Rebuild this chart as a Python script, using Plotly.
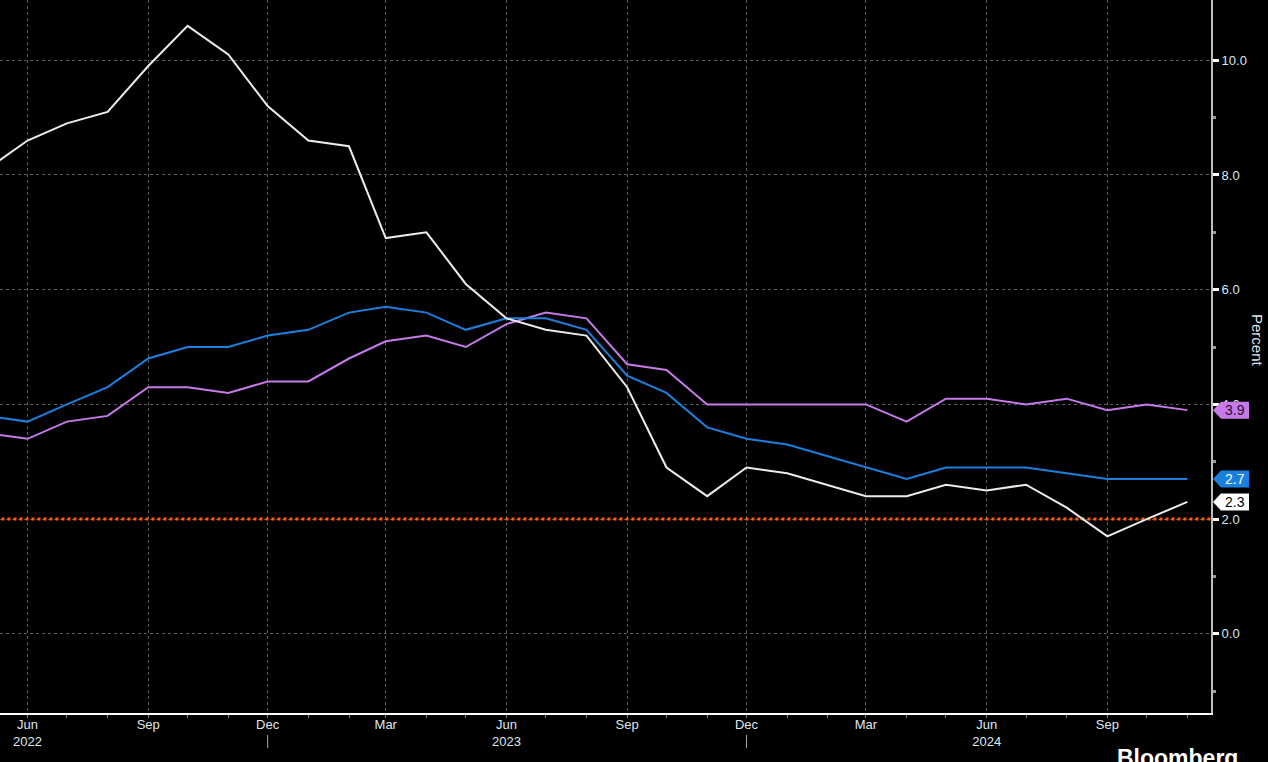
import plotly.graph_objects as go
import pandas as pd

months = pd.date_range("2022-05-01", "2024-11-01", freq="MS")

headline = [8.1, 8.6, 8.9, 9.1, 9.9, 10.6, 10.1, 9.2, 8.6, 8.5, 6.9, 7.0, 6.1, 5.5, 5.3, 5.2,
            4.3, 2.9, 2.4, 2.9, 2.8, 2.6, 2.4, 2.4, 2.6, 2.5, 2.6, 2.2, 1.7, 2.0, 2.3]
core = [3.8, 3.7, 4.0, 4.3, 4.8, 5.0, 5.0, 5.2, 5.3, 5.6, 5.7, 5.6, 5.3, 5.5, 5.5, 5.3,
        4.5, 4.2, 3.6, 3.4, 3.3, 3.1, 2.9, 2.7, 2.9, 2.9, 2.9, 2.8, 2.7, 2.7, 2.7]
services = [3.5, 3.4, 3.7, 3.8, 4.3, 4.3, 4.2, 4.4, 4.4, 4.8, 5.1, 5.2, 5.0, 5.4, 5.6, 5.5,
            4.7, 4.6, 4.0, 4.0, 4.0, 4.0, 4.0, 3.7, 4.1, 4.1, 4.0, 4.1, 3.9, 4.0, 3.9]
target = 2.0

x_tick_vals = ["2022-06-01", "2022-09-01", "2022-12-01", "2023-03-01", "2023-06-01",
               "2023-09-01", "2023-12-01", "2024-03-01", "2024-06-01", "2024-09-01"]
x_tick_text = ["Jun<br>2022", "Sep", "Dec", "Mar", "Jun<br>2023", "Sep", "Dec", "Mar",
               "Jun<br>2024", "Sep"]
year_breaks = ["2022-12-01", "2023-12-01"]
y_tick_vals = [0, 2, 4, 6, 8, 10]
y_tick_text = ["0.0", "2.0", "4.0", "6.0", "8.0", "10.0"]

WHITE = "#ececec"
BLUE = "#1a80e0"
PURPLE = "#c67ae8"
ORANGE = "#ff5a00"
FONT = "Liberation Sans"
LABEL = "#dfe6ef"

fig = go.Figure()
fig.add_trace(go.Scatter(x=["2022-04-01", "2024-12-31"], y=[target, target], mode="lines",
                         line=dict(color=ORANGE, width=3, dash="dot"), hoverinfo="skip"))
fig.add_trace(go.Scatter(x=months, y=services, mode="lines", line=dict(color=PURPLE, width=2)))
fig.add_trace(go.Scatter(x=months, y=core, mode="lines", line=dict(color=BLUE, width=2)))
fig.add_trace(go.Scatter(x=months, y=headline, mode="lines", line=dict(color=WHITE, width=2)))

YMIN, YMAX = -1.38, 11.05
PLOT_H = 713
PLOT_W = 1211
units_per_px = (YMAX - YMIN) / PLOT_H

def px(xp):
    return 1 + xp / PLOT_W

# value flags on the right axis
flags = [(services[-1], PURPLE, "#2a0a3a"), (core[-1], BLUE, "#ffffff"), (headline[-1], "#ffffff", "#000000")]
for val, fill, txt in flags:
    h = 8.5 * units_per_px
    path = (f"M {px(2)},{val} L {px(10)},{val + h} L {px(38)},{val + h} "
            f"L {px(38)},{val - h} L {px(10)},{val - h} Z")
    fig.add_shape(type="path", path=path, xref="paper", yref="y", fillcolor=fill,
                  line=dict(width=0), layer="above")
    fig.add_annotation(x=px(24), y=val, xref="paper", yref="y", text=f"{val:.1f}",
                       showarrow=False, font=dict(family=FONT, size=14, color=txt),
                       xanchor="center", yanchor="middle")

for d in year_breaks:
    fig.add_shape(type="line", x0=d, x1=d, xref="x", yref="paper",
                  y0=-(735 - PLOT_H) / PLOT_H, y1=-(748 - PLOT_H) / PLOT_H,
                  line=dict(color="#aaaaaa", width=1))

fig.add_annotation(x=1258 / PLOT_W, y=(PLOT_H - 340) / PLOT_H, xref="paper", yref="paper",
                   text="Percent", textangle=90, showarrow=False, xanchor="center",
                   yanchor="middle", font=dict(family=FONT, size=15, color=LABEL))
fig.add_annotation(x=1240 / PLOT_W, y=-(743 - PLOT_H) / PLOT_H, xref="paper", yref="paper",
                   text="<b>Bloomberg</b>", showarrow=False, xanchor="right", yanchor="top",
                   font=dict(family="Liberation Sans", size=23, color="#ffffff"))

fig.update_layout(
    width=1268, height=762,
    margin=dict(l=0, r=57, t=0, b=49, pad=0),
    paper_bgcolor="#000000", plot_bgcolor="#000000",
    showlegend=False,
    font=dict(family=FONT, size=13, color=LABEL),
    xaxis=dict(
        type="date", range=["2022-05-11", "2024-11-19"],
        tickvals=x_tick_vals, ticktext=x_tick_text,
        showgrid=True, gridcolor="#5a5a5a", griddash="dot", gridwidth=1,
        showline=True, linecolor="#ffffff", linewidth=2,
        ticks="outside", ticklen=3, tickcolor="#888888",
        ticklabelstandoff=-5,
        minor=dict(dtick="M1", tick0="2022-06-01", ticks="outside", ticklen=3,
                   tickcolor="#888888", showgrid=False),
        tickfont=dict(family=FONT, size=13, color=LABEL),
        zeroline=False,
    ),
    yaxis=dict(
        side="right", range=[YMIN, YMAX],
        tickvals=y_tick_vals, ticktext=y_tick_text,
        showgrid=True, gridcolor="#5a5a5a", griddash="dot", gridwidth=1,
        showline=True, linecolor="#bdbdbd", linewidth=2,
        ticks="outside", ticklen=6, tickwidth=3, tickcolor="#ffffff",
        minor=dict(tickvals=[-1, 1, 3, 5, 7, 9], ticks="outside", ticklen=3,
                   tickcolor="#999999", showgrid=False),
        tickfont=dict(family=FONT, size=13, color=LABEL),
        zeroline=False,
    ),
)

fig.write_html("out.html", config={"displayModeBar": False},
               post_script="document.body.style.margin='0px';document.body.style.overflow='hidden';")
